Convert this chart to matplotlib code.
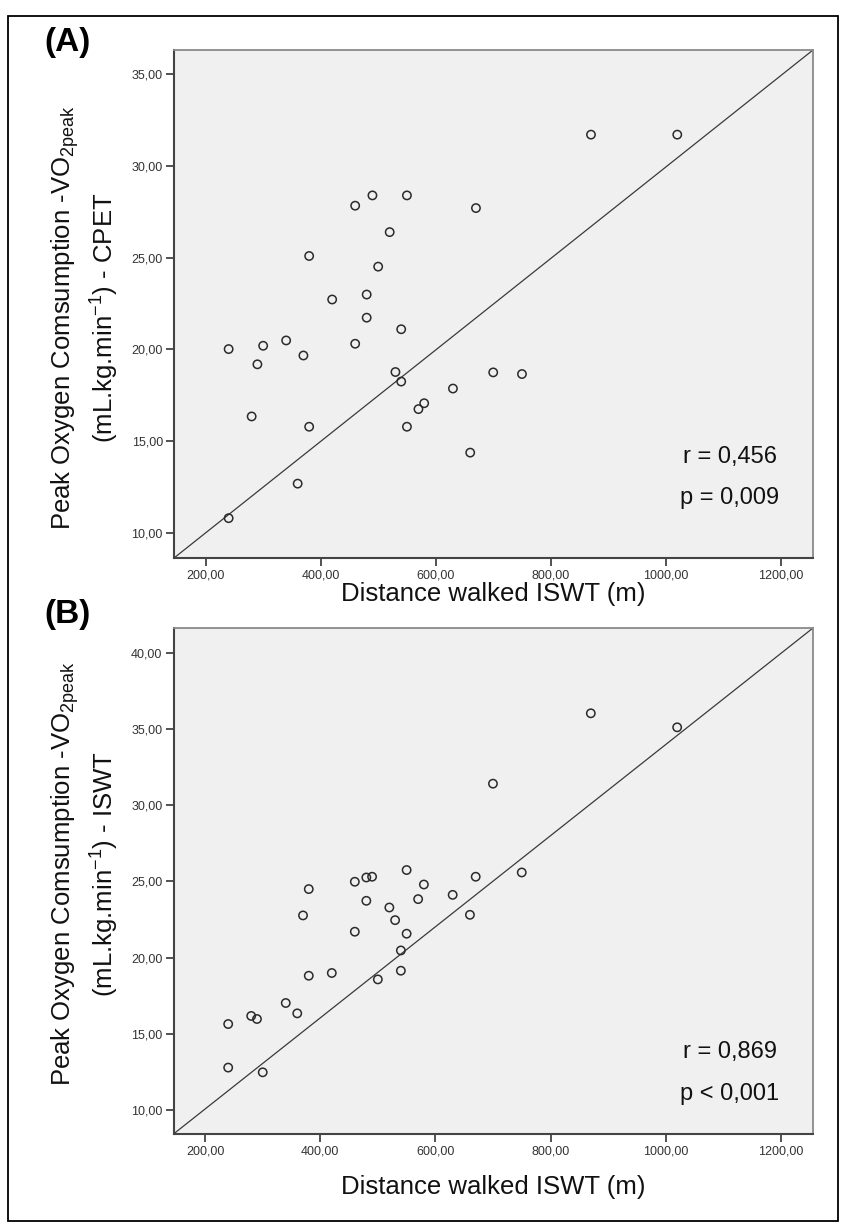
import matplotlib
matplotlib.use("Agg")
import matplotlib.pyplot as plt
from matplotlib.ticker import FuncFormatter
from matplotlib.patches import Rectangle

plt.rcParams['font.family'] = ['Liberation Sans', 'DejaVu Sans']
plt.rcParams['mathtext.default'] = 'regular'

# ---- data ----
distance = [240, 240, 280, 290, 300, 340, 360, 370, 380, 380, 420, 460, 460, 480, 480, 490,
            500, 520, 530, 540, 540, 550, 550, 570, 580, 630, 660, 670, 700, 750, 870, 1020]
vo2_cpet = [20.02, 10.81, 16.35, 19.19, 20.20, 20.49, 12.69, 19.67, 25.09, 15.79, 22.72, 20.31,
            27.83, 22.99, 21.73, 28.39, 24.51, 26.39, 18.77, 21.10, 18.25, 15.79, 28.39, 16.75,
            17.07, 17.87, 14.38, 27.70, 18.75, 18.66, 31.70, 31.70]
vo2_iswt = [15.64, 12.78, 16.17, 15.97, 12.47, 17.02, 16.34, 22.77, 24.50, 18.81, 18.99, 24.98,
            21.70, 25.26, 23.73, 25.31, 18.57, 23.29, 22.46, 20.47, 19.14, 25.75, 21.57, 23.84,
            24.80, 24.12, 22.81, 25.31, 31.42, 25.59, 36.04, 35.12]

panel_labels = ["(A)", "(B)"]
ylabel_line1 = "Peak Oxygen Comsumption -VO$_{2peak}$"
ylabel_line2 = ["(mL.kg.min$^{-1}$) - CPET", "(mL.kg.min$^{-1}$) - ISWT"]
xlabel = "Distance walked ISWT (m)"
stats_r = ["r = 0,456", "r = 0,869"]
stats_p = ["p = 0,009", "p < 0,001"]
x_ticks = [200, 400, 600, 800, 1000, 1200]
y_ticks = [[10, 15, 20, 25, 30, 35], [10, 15, 20, 25, 30, 35, 40]]
x_limits = (145, 1256)
y_limits = [(8.64, 36.31), (8.42, 41.64)]

W, H = 848, 1223
fig = plt.figure(figsize=(W / 100, H / 100), dpi=100)


def rect(l, t, r, b):
    return [l / W, 1 - b / H, (r - l) / W, (b - t) / H]


def fy(y):
    return 1 - y / H


# outer frame
fig.patches.append(Rectangle((8 / W, fy(1221)), (838 - 8) / W, (1221 - 16) / H,
                             transform=fig.transFigure, fill=False, edgecolor='black',
                             linewidth=1.3))

fmt = FuncFormatter(lambda v, p: f"{v:.2f}".replace('.', ','))

boxes = [(174, 50, 813, 558), (173.5, 628, 813, 1134)]
ydata = [vo2_cpet, vo2_iswt]
label_y = [43, 615]
xlabel_y = [594, 1187]
ylabel_cy = [318, 874]
r_y = [457, 1052]
p_y = [498, 1094]

for i in range(2):
    l, t, r, b = boxes[i]
    ax = fig.add_axes(rect(l, t, r, b))
    ax.set_facecolor('#f0f0f0')
    ax.set_xlim(*x_limits)
    ax.set_ylim(*y_limits[i])
    ax.plot(ax.get_xlim(), ax.get_ylim(), color='#3a3a3a', linewidth=0.9, zorder=2)
    ax.scatter(distance, ydata[i], s=36, facecolors='none', edgecolors='#2b2b2b',
               linewidths=1.1, zorder=3)
    ax.set_xticks(x_ticks)
    ax.set_yticks(y_ticks[i])
    ax.xaxis.set_major_formatter(fmt)
    ax.yaxis.set_major_formatter(fmt)
    ax.tick_params(direction='out', length=6, width=1.2, color='#333333',
                   labelsize=9, labelcolor='#333333', pad=2)
    for side in ['left', 'bottom']:
        ax.spines[side].set_color('#444444')
        ax.spines[side].set_linewidth(1.5)
    for side in ['top', 'right']:
        ax.spines[side].set_color('#8a8a8a')
        ax.spines[side].set_linewidth(1.3)

    # x label
    fig.text((l + r) / 2 / W, fy(xlabel_y[i]), xlabel, ha='center', va='center',
             fontsize=18.5, color='#111111')
    # y label (two lines)
    fig.text(65 / W, fy(ylabel_cy[i]), ylabel_line1, rotation=90, ha='center', va='center',
             fontsize=18.5, color='#111111')
    fig.text(105 / W, fy(ylabel_cy[i]), ylabel_line2[i], rotation=90, ha='center',
             va='center', fontsize=18.5, color='#111111')
    # stats
    fig.text(730 / W, fy(r_y[i]), stats_r[i], ha='center', va='center',
             fontsize=17, color='#111111')
    fig.text(730 / W, fy(p_y[i]), stats_p[i], ha='center', va='center',
             fontsize=17, color='#111111')
    # panel label
    fig.text(44 / W, fy(label_y[i]), panel_labels[i], ha='left', va='center',
             fontsize=24, fontweight='bold', color='black')

fig.savefig('out.png', dpi=100)
